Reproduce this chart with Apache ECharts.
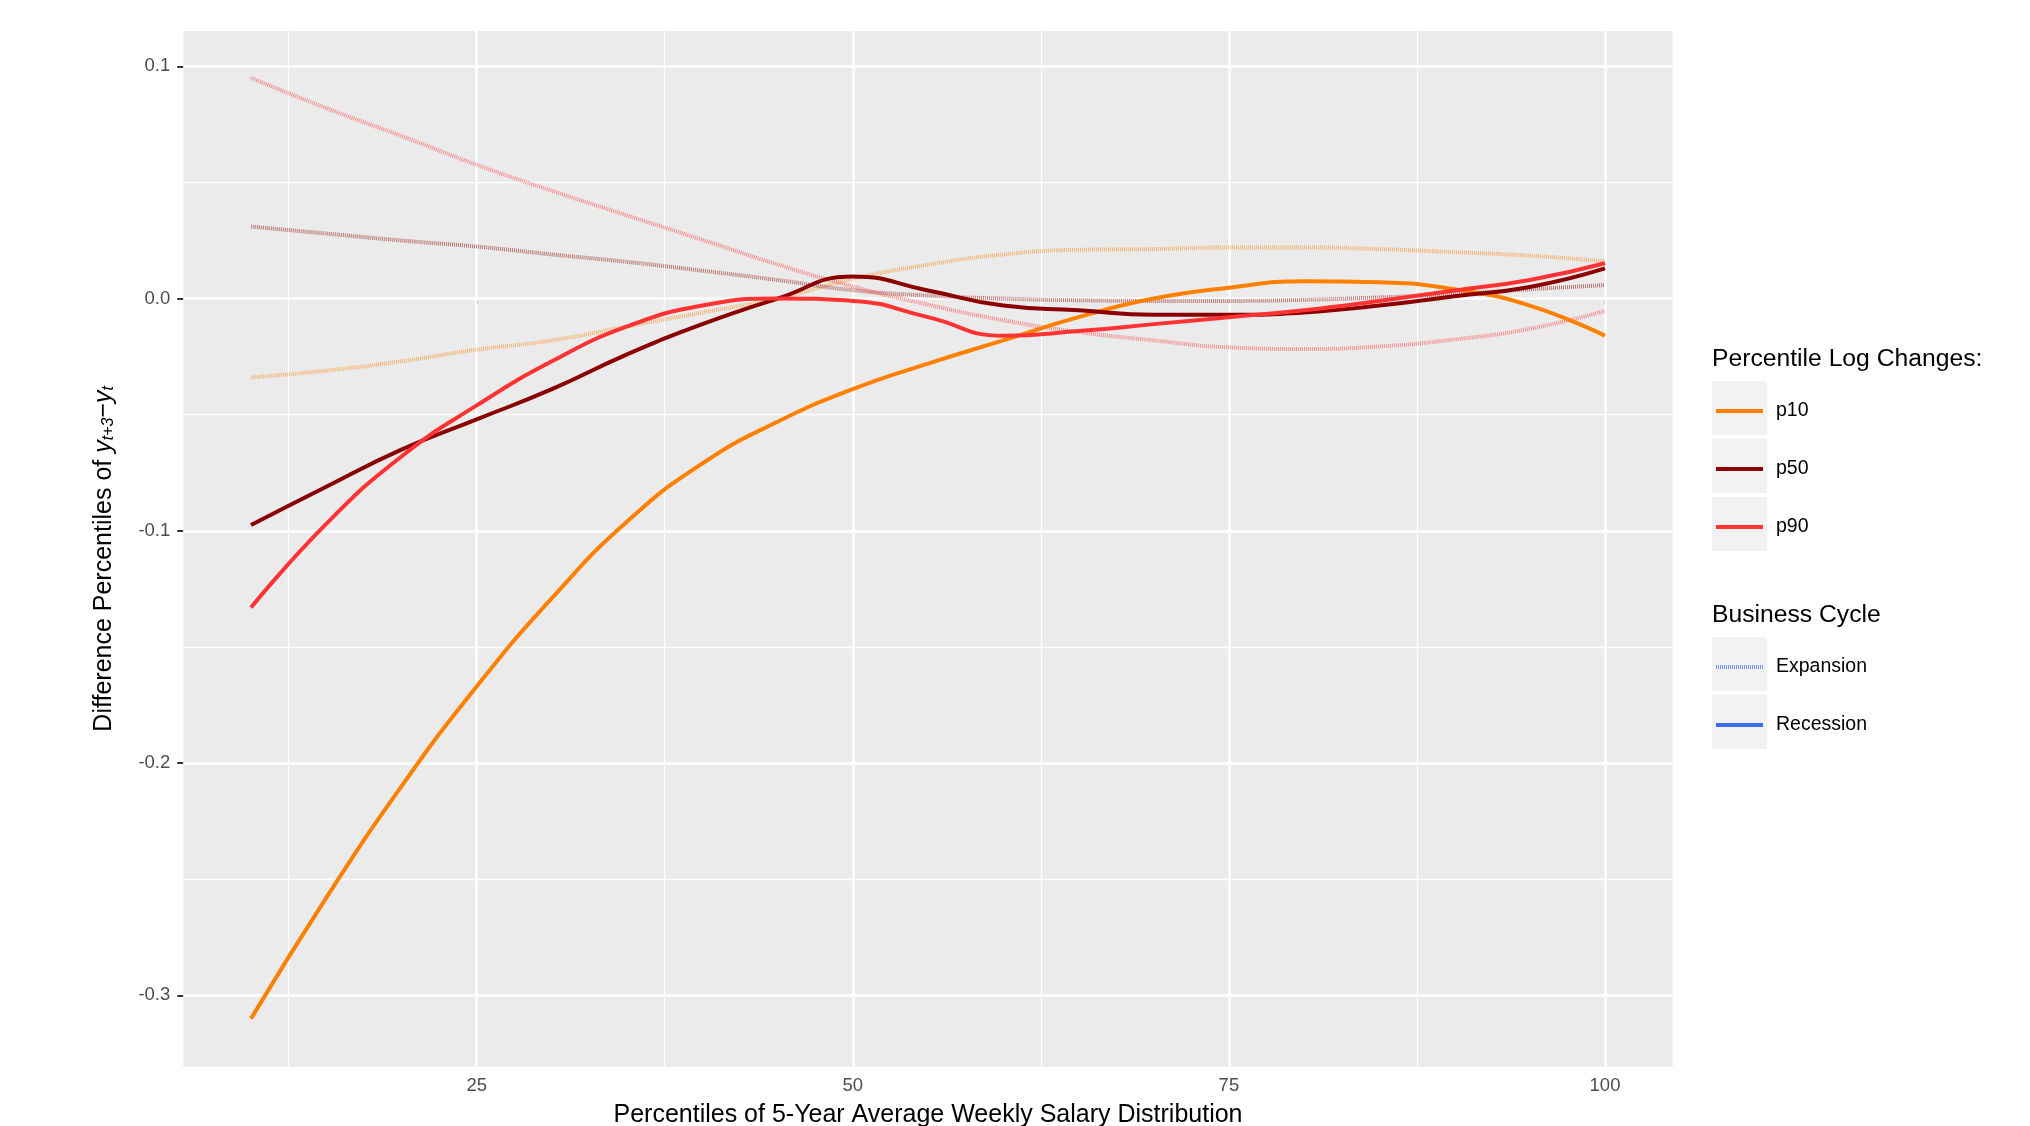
<!DOCTYPE html>
<html>
<head>
<meta charset="utf-8">
<script src="https://cdn.jsdelivr.net/npm/echarts@6/dist/echarts.min.js"></script>
<style>
html, body { margin: 0; padding: 0; background: #fff; }
#chart { width: 2030px; height: 1126px; }
</style>
</head>
<body>
<div id="chart"></div>
<script>
// percentile positions (x) where the smoothed curves are read
var pctX = [10, 15, 20, 25, 30, 35, 40, 45, 50, 55, 60, 65, 70, 75, 80, 85, 90, 95, 100];

// recession curves (solid)
var p10Recession = [-0.310, -0.258, -0.210, -0.167, -0.129, -0.096, -0.071, -0.053, -0.039, -0.028, -0.018, -0.008, 0.000, 0.0047, 0.0075, 0.007, 0.004, -0.003, -0.016];
var p50Recession = [-0.0975, -0.081, -0.065, -0.052, -0.039, -0.024, -0.011, 0.000, 0.0095, 0.0035, -0.003, -0.005, -0.007, -0.007, -0.006, -0.003, 0.001, 0.005, 0.013];
var p90Recession = [-0.133, -0.097, -0.068, -0.046, -0.027, -0.012, -0.003, 0.000, -0.001, -0.008, -0.016, -0.014, -0.011, -0.008, -0.005, -0.001, 0.0035, 0.008, 0.0152];

// expansion curves (dotted, faded)
var p10Expansion = [-0.034, -0.031, -0.027, -0.022, -0.018, -0.012, -0.006, 0.000, 0.0085, 0.0146, 0.019, 0.021, 0.0213, 0.022, 0.022, 0.0213, 0.020, 0.0185, 0.016];
var p50Expansion = [0.031, 0.028, 0.025, 0.0224, 0.019, 0.0158, 0.012, 0.008, 0.0036, 0.0013, 0.000, -0.0007, -0.001, -0.001, -0.0005, 0.0005, 0.002, 0.004, 0.0058];
var p90Expansion = [0.095, 0.082, 0.070, 0.0576, 0.0464, 0.0358, 0.0253, 0.0147, 0.0052, -0.0026, -0.0093, -0.0144, -0.018, -0.021, -0.0217, -0.0206, -0.0176, -0.013, -0.0053];

var xTicks = [25, 50, 75, 100];
var xMinorGrid = [12.5, 37.5, 62.5, 87.5];
var yTicks = [-0.3, -0.2, -0.1, 0.0, 0.1];
var yMinorGrid = [-0.25, -0.15, -0.05, 0.05];

var percentileNames = ['p10', 'p50', 'p90'];
var cycleNames = ['Expansion', 'Recession'];

var colors = { p10: '#FF8000', p50: '#8B0000', p90: '#FF3333', cycle: '#3B6CF4' };
var font = 'Liberation Sans';

function pairs(xs, ys) {
    return xs.map(function (x, i) { return [x, ys[i]]; });
}

function curve(name, color, ys, dotted) {
    return {
        name: name,
        type: 'line',
        data: pairs(pctX, ys),
        smooth: 0.5,
        symbol: 'none',
        silent: true,
        z: dotted ? 2 : 3,
        lineStyle: {
            color: color,
            width: 4,
            type: dotted ? [1, 1] : 'solid',
            opacity: dotted ? 0.5 : 1
        },
        itemStyle: { color: color }
    };
}

// grid lines drawn through the axes' own scales
var gridLines = [];
xTicks.forEach(function (v) { gridLines.push({ xAxis: v, lineStyle: { width: 2.6 } }); });
xMinorGrid.forEach(function (v) { gridLines.push({ xAxis: v, lineStyle: { width: 1.3 } }); });
yTicks.forEach(function (v) { gridLines.push({ yAxis: v, lineStyle: { width: 2.6 } }); });
yMinorGrid.forEach(function (v) { gridLines.push({ yAxis: v, lineStyle: { width: 1.3 } }); });

// dotted legend key: a row of thin bars
var hatch = 'path://';
for (var i = 0; i < 24; i++) {
    hatch += 'M' + (2 * i) + ',0h1v4h-1z';
}

var chart = echarts.init(document.getElementById('chart'));

var keyBoxes = [381, 439, 497, 637, 695].map(function (y) {
    return { type: 'rect', left: 1712, top: y, shape: { width: 55, height: 54 }, style: { fill: '#F2F2F2' }, z: -1, silent: true };
});

var legendText = { fontFamily: font, fontSize: 19.5, color: '#000', lineHeight: 54, padding: [0, 0, 0, 8] };

var option = {
    animation: false,
    textStyle: { fontFamily: font },
    grid: {
        left: 183.3,
        top: 31,
        right: 357.3,
        bottom: 59.3,
        show: true,
        backgroundColor: '#EBEBEB',
        borderWidth: 0,
        containLabel: false,
        outerBoundsMode: 'none'
    },
    title: [
        { text: 'Percentile Log Changes:', left: 1712, top: 347, padding: 0,
          textStyle: { fontFamily: font, fontSize: 24.7, fontWeight: 'normal', color: '#000' } },
        { text: 'Business Cycle', left: 1712, top: 603, padding: 0,
          textStyle: { fontFamily: font, fontSize: 24.7, fontWeight: 'normal', color: '#000' } }
    ],
    legend: [
        { data: percentileNames, orient: 'vertical', left: 1716, top: 384, padding: 0, icon: 'rect',
          itemWidth: 47, itemHeight: 4, itemGap: 4, selectedMode: false, textStyle: legendText },
        { data: [
              { name: cycleNames[0], icon: hatch, itemStyle: { color: '#6F93F5' } },
              { name: cycleNames[1], icon: 'rect' }
          ],
          orient: 'vertical', left: 1716, top: 640, padding: 0,
          itemWidth: 47, itemHeight: 4, itemGap: 4, selectedMode: false, textStyle: legendText }
    ],
    graphic: keyBoxes,
    xAxis: {
        type: 'value',
        min: 5.5,
        max: 104.5,
        name: 'Percentiles of 5-Year Average Weekly Salary Distribution',
        nameLocation: 'middle',
        nameGap: 36,
        nameTextStyle: { fontFamily: font, fontSize: 25, color: '#000' },
        axisLine: { show: false },
        axisTick: { show: true, customValues: xTicks, length: 6, lineStyle: { color: '#333', width: 2 } },
        axisLabel: { customValues: xTicks, fontSize: 18.5, color: '#4D4D4D', margin: 10 },
        splitLine: { show: false }
    },
    yAxis: {
        type: 'value',
        min: -0.3307,
        max: 0.1152,
        name: '{a|Difference Percentiles of }{i|y}{s|t+3}{a|\u2212}{i|y}{s|t}',
        nameLocation: 'middle',
        nameRotate: 90,
        nameGap: 67,
        nameTextStyle: {
            fontFamily: font,
            padding: [0, 20, 0, 0],
            rich: {
                a: { fontFamily: font, fontSize: 25, color: '#000', verticalAlign: 'top', lineHeight: 25 },
                i: { fontFamily: font, fontSize: 25, color: '#000', fontStyle: 'italic', verticalAlign: 'top', lineHeight: 25 },
                s: { fontFamily: font, fontSize: 16, color: '#000', fontStyle: 'italic', verticalAlign: 'bottom', lineHeight: 16, padding: [12, 0, 0, 0] }
            }
        },
        axisLine: { show: false },
        axisTick: { show: true, customValues: yTicks, length: 6, lineStyle: { color: '#333', width: 2 } },
        axisLabel: {
            customValues: yTicks,
            fontSize: 18.5,
            color: '#4D4D4D',
            margin: 13,
            formatter: function (v) { return v.toFixed(1); }
        },
        splitLine: { show: false }
    },
    series: [
        {
            name: 'grid',
            type: 'line',
            data: [],
            silent: true,
            markLine: {
                silent: true,
                z: 1,
                symbol: 'none',
                label: { show: false },
                emphasis: { disabled: true },
                lineStyle: { color: '#FFFFFF', type: 'solid' },
                data: gridLines
            }
        },
        curve('p10 expansion', colors.p10, p10Expansion, true),
        curve('p50 expansion', colors.p50, p50Expansion, true),
        curve('p90 expansion', colors.p90, p90Expansion, true),
        curve('p10', colors.p10, p10Recession, false),
        curve('p50', colors.p50, p50Recession, false),
        curve('p90', colors.p90, p90Recession, false),
        { name: 'Expansion', type: 'line', data: [], symbol: 'none', itemStyle: { color: colors.cycle },
          lineStyle: { color: colors.cycle, width: 4, type: [1, 1], opacity: 0.55 } },
        { name: 'Recession', type: 'line', data: [], symbol: 'none', itemStyle: { color: colors.cycle },
          lineStyle: { color: colors.cycle, width: 4 } }
    ]
};

chart.setOption(option);
</script>
</body>
</html>
